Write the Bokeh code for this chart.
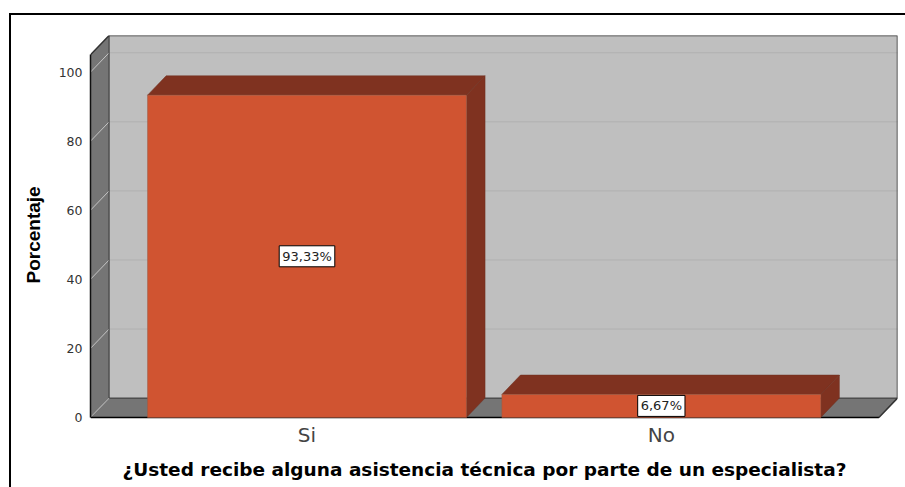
from bokeh.plotting import figure
from bokeh.models import Range1d, FixedTicker, Title
from bokeh.core.properties import value
from bokeh.embed import file_html
from bokeh.resources import INLINE

categories = ["Si", "No"]
percent = [93.33, 6.67]
labels = ["93,33%", "6,67%"]
y_ticks = [0, 20, 40, 60, 80, 100]
x_title = "¿Usted recibe alguna asistencia técnica por parte de un especialista?"
y_title = "Porcentaje"

# 3D extrusion in data units
dx, dy = 0.0525, 5.6
bar_w = 0.9
x0, x1 = -0.611, 1.614   # front floor edge
y_top = 105.0            # top of the walls, front

WALL, SIDE, BAR, BAR_DK = "#BFBFBF", "#757575", "#D05431", "#7F3220"

p = figure(width=905, height=487, output_backend="svg", toolbar_location=None,
           x_range=Range1d(x0, x1 + dx), y_range=Range1d(-0.6, y_top + dy),
           x_axis_location="below", y_axis_location="left",
           min_border_left=90, min_border_right=8, min_border_top=35, min_border_bottom=67)
p.outline_line_color = None
p.background_fill_color = "white"
p.grid.visible = False

# back wall, left wall, floor
p.patch([x0 + dx, x1 + dx, x1 + dx, x0 + dx], [dy, dy, y_top + dy, y_top + dy], fill_color=WALL, line_color=None)
p.patch([x0, x0 + dx, x0 + dx, x0], [0, dy, y_top + dy, y_top], fill_color=SIDE, line_color=None)
p.patch([x0, x1, x1 + dx, x0 + dx], [0, 0, dy, dy], fill_color=SIDE, line_color=None)

# grid lines on back wall and left wall
for t in y_ticks[1:]:
    p.line([x0 + dx, x1 + dx], [t + dy, t + dy], line_color="#B0B0B0", line_width=1)
for t in y_ticks:
    p.line([x0, x0 + dx], [t, t + dy], line_color="#C4C4C4", line_width=1)

# wall edges
p.line([x0, x0 + dx, x1 + dx, x1 + dx, x1], [y_top, y_top + dy, y_top + dy, dy, 0], line_color="#333333", line_width=1.5)
p.line([x0 + dx, x0 + dx, x1 + dx], [y_top + dy, dy, dy], line_color="#333333", line_width=1)
p.line([x0, x0 + dx], [0, dy], line_color="#999999", line_width=1)
p.line([x0, x1], [0, 0], line_color="black", line_width=1.5)

# bars
for i, v in enumerate(percent):
    l, r = i - bar_w / 2, i + bar_w / 2
    p.patch([l, r, r + dx, l + dx], [v, v, v + dy, v + dy], fill_color=BAR_DK, line_color="#6E3020", line_width=0.5)
    p.patch([r, r + dx, r + dx, r], [0, dy, v + dy, v], fill_color=BAR_DK, line_color="#6E3020", line_width=0.5)
    p.patch([l, r, r, l], [0, 0, v, v], fill_color=BAR, line_color="#9A5A45", line_width=0.5)

p.text(x=[0, 1], y=[v / 2 for v in percent], text=labels,
       text_font=value("DejaVu Sans"), text_font_size="13px", text_color="#222222",
       text_align="center", text_baseline="middle",
       background_fill_color="white", border_line_color="black", border_line_width=1, padding=3)

ya = p.yaxis[0]
ya.ticker = FixedTicker(ticks=y_ticks)
ya.bounds = (0, y_top)
ya.axis_line_color = "#111111"
ya.axis_line_width = 1.5
ya.major_tick_line_color = None
ya.minor_tick_line_color = None
ya.major_tick_out = 0
ya.major_tick_in = 0
ya.minor_tick_out = 0
ya.minor_tick_in = 0
ya.major_label_text_font = "DejaVu Sans"
ya.major_label_text_font_size = "12.5px"
ya.major_label_text_color = "#333333"
ya.major_label_standoff = 8

xa = p.xaxis[0]
xa.ticker = FixedTicker(ticks=[0, 1])
xa.major_label_overrides = {i: c for i, c in enumerate(categories)}
xa.axis_line_color = None
xa.major_tick_line_color = None
xa.minor_tick_line_color = None
xa.major_tick_out = 0
xa.major_tick_in = 0
xa.minor_tick_out = 0
xa.minor_tick_in = 0
xa.major_label_text_font = "DejaVu Sans"
xa.major_label_text_font_size = "20px"
xa.major_label_text_color = "#444444"
xa.major_label_standoff = 3

p.add_layout(Title(text=x_title, align="left", offset=32, standoff=15, vertical_align="bottom",
                   text_font="DejaVu Sans", text_font_style="bold", text_font_size="18.5px",
                   text_color="black"), "below")
p.add_layout(Title(text=y_title, align="left", offset=136, standoff=20, vertical_align="top",
                   text_font="Liberation Sans", text_font_style="bold", text_font_size="19px",
                   text_color="black"), "left")

# outer chart border (runs off the right and bottom of the page)
p.stylesheets = [":host::after{content:'';position:absolute;left:9px;top:13px;right:0;bottom:0;"
                 "border-left:2px solid #000;border-top:2px solid #000;pointer-events:none;z-index:10;}"]

open("out.html", "w").write(file_html(p, INLINE))
